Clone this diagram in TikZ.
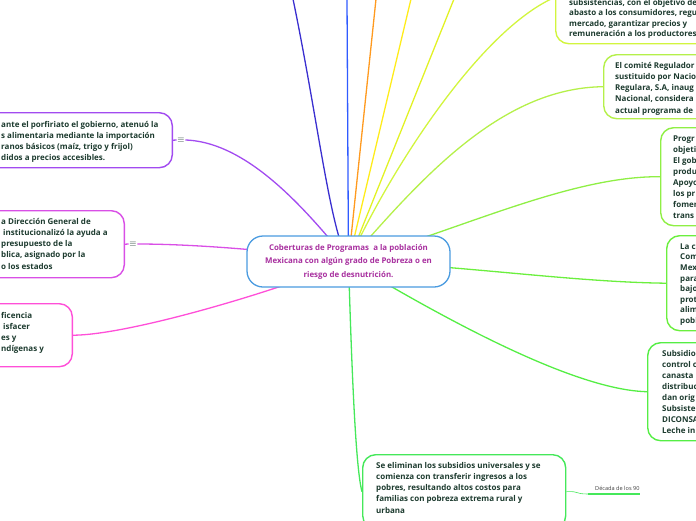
\documentclass[tikz,border=0pt]{standalone}
\usepackage{fontspec}
\setmainfont{Open Sans}
\usetikzlibrary{backgrounds}

\definecolor{textC}{HTML}{1D3B2F}
\definecolor{cobtextC}{HTML}{A8309F}
\definecolor{cobC}{HTML}{4A9BE0}
\definecolor{porfC}{HTML}{A24BF0}
\definecolor{dgC}{HTML}{D94FE6}
\definecolor{needC}{HTML}{FF4FD8}
\definecolor{indC}{HTML}{3A2FD0}
\definecolor{blueC}{HTML}{2F5BFF}
\definecolor{orangeC}{HTML}{FF9A1F}
\definecolor{yellowC}{HTML}{FFEC1A}
\definecolor{ylimeC}{HTML}{E2F224}
\definecolor{topC}{HTML}{D2F53E}
\definecolor{comiteC}{HTML}{B5F04A}
\definecolor{progrC}{HTML}{8FEF45}
\definecolor{lacC}{HTML}{6BEF3E}
\definecolor{subsC}{HTML}{55EE45}
\definecolor{botC}{HTML}{45E85A}

% fixed height for the first line of a leaf text
\newcommand\leadrule{\rule{0pt}{7pt}}

\tikzset{
  leaf/.style={draw=#1, fill=white, rounded corners=13pt, line width=1.4pt, inner sep=0pt},
  leaftext/.style={anchor=north west, align=left, inner sep=0pt, text=textC,
    font=\fontsize{8}{11.2}\selectfont\bfseries},
  menu/.style={text=textC, inner sep=0.5pt, font=\fontsize{9}{9}\selectfont},
  branch/.style={draw=#1, line width=1.3pt},
  dectext/.style={anchor=base west, inner sep=0pt, text=black!75, font=\fontsize{5.6}{6}\selectfont},
}

\begin{document}
\begin{tikzpicture}[x=1pt, y=-1pt]
  \useasboundingbox (0,0) rectangle (696,520);
  \clip (0,0) rectangle (696,520);

  % Central topic
  \node[draw=cobC, fill=white, rounded corners=16pt, line width=1.3pt,
    minimum width=203pt, minimum height=51pt, align=center, text=cobtextC,
    font=\fontsize{7.9}{13.5}\selectfont\bfseries] (cob) at (348.5,261.5)
    {Coberturas de Programas \ a la población\\Mexicana con algún grado de Pobreza o en\\riesgo de desnutrición.};

  % Left side
  \node[leaf=porfC, anchor=north east, minimum width=250pt, minimum height=55pt] (porf) at (173,112) {};
  \node[leaftext] at (1,120) {\leadrule ante el porfiriato el gobierno, atenuó la\\s alimentaria mediante la importación\\ranos básicos (maíz, trigo y frijol)\\didos a precios accesibles.};
  \node[menu] (porfmenu) at (181,140) {$\equiv$};

  \node[leaf=dgC, anchor=north east, minimum width=200pt, minimum height=67pt] (dg) at (125,210) {};
  \node[leaftext] at (1,217) {\leadrule a Dirección General de\\\hspace{2pt}institucionalizó la ayuda a\\presupuesto de la\\blica, asignado por la\\o los estados};
  \node[menu] (dgmenu) at (133,244) {$\equiv$};

  \node[leaf=needC, anchor=north east, minimum width=150pt, minimum height=63pt] (need) at (73,303) {};
  \node[leaftext] at (1,311) {\leadrule ficencia\\\hspace{2pt}isfacer\\es y\\ndígenas y};

  % Right side
  \node[leaf=topC, anchor=north west, minimum width=200pt, minimum height=93pt] (topbox) at (555,-50) {};
  \node[leaftext, font=\fontsize{8}{10.5}\selectfont\bfseries] at (569,-2) {\leadrule subsistencias, con el objetivo de\\abasto a los consumidores, regu\\mercado, garantizar precios y\\remuneración a los productores};

  \node[leaf=comiteC, anchor=north west, minimum width=160pt, minimum height=64pt] (comite) at (603,54) {};
  \node[leaftext] at (615,61) {\leadrule El comité Regulador\\sustituido por Nacio\\Regulara, S.A, inaug\\Nacional, considera\\actual programa de};

  \node[leaf=progrC, anchor=north west, minimum width=100pt, minimum height=98pt] (progr) at (660,127) {};
  \node[leaftext, font=\fontsize{8}{11}\selectfont\bfseries] at (673,134) {\leadrule Progr\\objeti\\El gob\\produ\\Apoyo\\los pr\\fomen\\trans};

  \node[leaf=lacC, anchor=north west, minimum width=100pt, minimum height=95pt] (lac) at (666,235) {};
  \node[leaftext, font=\fontsize{8}{10.6}\selectfont\bfseries] at (680,242) {\leadrule La c\\Com\\Mex\\para\\bajo\\prot\\alim\\pobl};

  \node[leaf=subsC, anchor=north west, minimum width=100pt, minimum height=98pt] (subs) at (647,342) {};
  \node[leaftext, font=\fontsize{8}{11}\selectfont\bfseries] at (662,349) {\leadrule Subsidio\\control c\\canasta\\distribuc\\dan orig\\Subsiste\\DICONSA\\Leche in};

  \node[leaf=botC, anchor=north west, minimum width=203pt, minimum height=74pt] (bot) at (362,454) {};
  \node[leaftext] at (376,461) {\leadrule Se eliminan los subsidios universales y se\\comienza con transferir ingresos a los\\pobres, resultando altos costos para\\familias con pobreza extrema rural y\\urbana};

  \node[dectext] (dec) at (595,490) {Década de los 90};
  \coordinate (decl) at (588,494);
  \draw[botC, line width=1.5pt] (decl) -- (decl -| dec.east);

  % Ends of the branches that leave the page
  \coordinate (indtop) at (293,-1);
  \coordinate (bluetop) at (347,-1);
  \coordinate (orangetop) at (376,-1);
  \coordinate (yellowtop) at (411,-1);
  \coordinate (ylimetop) at (454,-1);

  \begin{scope}[on background layer]
    \clip (0,0) rectangle (696,520);
    \draw[branch=porfC] (porf.east) -- (porfmenu.west);
    \draw[branch=dgC] (dg.east) -- (dgmenu.west);
    \draw[branch=porfC] (cob.center) .. controls (310,215) and (250,142) .. (porfmenu.east);
    \draw[branch=dgC] (cob.center) .. controls (290,252) and (200,244) .. (dgmenu.east);
    \draw[branch=needC] (cob.center) .. controls (280,290) and (130,335) .. (need.east);
    \draw[branch=indC] (cob.center) .. controls (330,230) and (318,120) .. (indtop);
    \draw[branch=blueC] (cob.center) -- (bluetop);
    \draw[branch=orangeC] (cob.center) -- (orangetop);
    \draw[branch=yellowC] (cob.center) -- (yellowtop);
    \draw[branch=ylimeC] (cob.center) -- (ylimetop);
    \draw[branch=topC] (cob.center) .. controls (390,170) and (480,30) .. (topbox.west);
    \draw[branch=comiteC] (cob.center) .. controls (420,180) and (500,88) .. (comite.west);
    \draw[branch=progrC] (cob.center) .. controls (460,230) and (570,176) .. (progr.west);
    \draw[branch=lacC] (cob.center) .. controls (460,265) and (570,282) .. (lac.west);
    \draw[branch=subsC] (cob.center) .. controls (430,310) and (570,390) .. (subs.west);
    \draw[branch=botC] (cob.center) .. controls (352,380) and (356,470) .. (bot.west);
    \draw[botC, line width=0.6pt] (bot.east) .. controls (580,491) and (574,494) .. (decl);
  \end{scope}
\end{tikzpicture}
\end{document}
